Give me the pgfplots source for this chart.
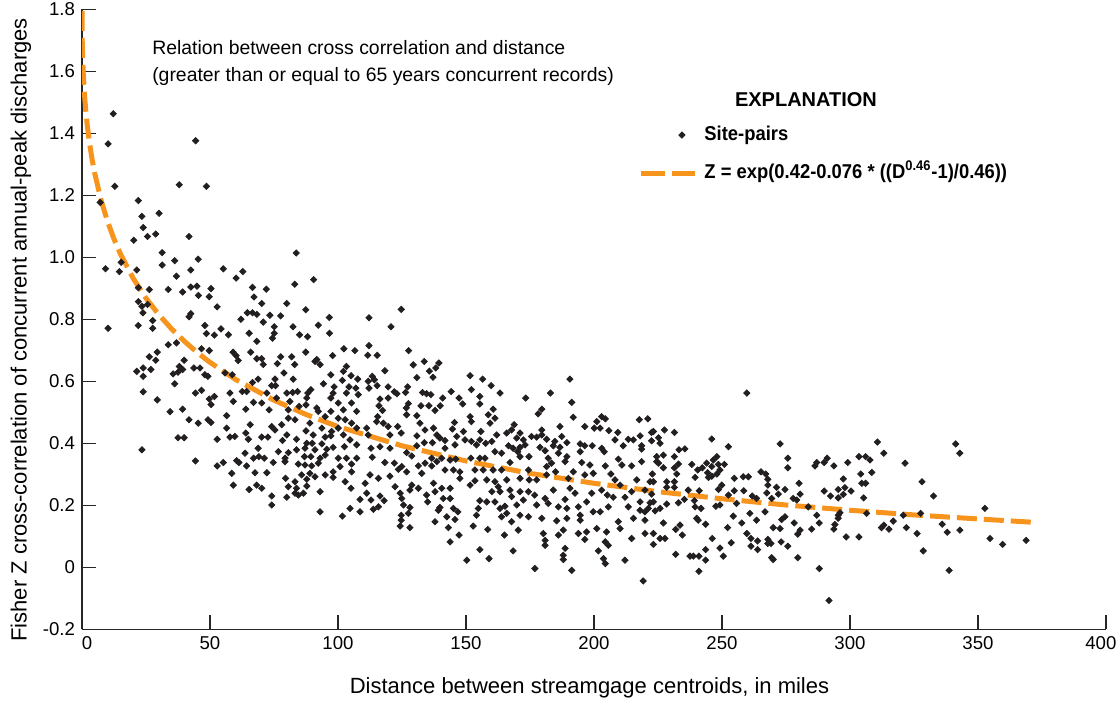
\documentclass[border=0pt]{standalone}
\usepackage{fontspec}
\setmainfont{Liberation Sans}
\newfontfamily\condfont{Liberation Sans}[FakeStretch=0.92]
\usepackage{pgfplots}
\pgfplotsset{compat=1.18}
\usetikzlibrary{calc}
\definecolor{usgsorange}{RGB}{247,148,29}
\definecolor{ptcol}{RGB}{35,31,32}

\pgfplotstableread{
x y
12.2 1.463
10.2 1.366
44.4 1.376
12.8 1.229
38.0 1.234
48.6 1.229
22.0 1.183
7.1 1.177
23.4 1.132
30.1 1.142
23.9 1.096
25.6 1.067
28.8 1.075
20.2 1.055
41.8 1.067
31.3 1.015
36.2 0.989
45.4 0.994
31.3 0.975
15.3 0.984
9.2 0.963
14.6 0.954
21.4 0.959
36.9 0.939
42.5 0.959
55.2 0.963
22.0 0.902
26.3 0.896
33.7 0.896
39.3 0.888
42.5 0.904
44.9 0.907
50.4 0.899
45.5 0.877
49.7 0.873
22.0 0.857
23.4 0.842
25.6 0.848
23.8 0.821
52.8 0.840
42.5 0.818
41.8 0.808
27.6 0.796
22.0 0.780
27.6 0.771
10.2 0.771
48.0 0.780
54.3 0.769
48.6 0.754
51.7 0.749
33.7 0.718
36.9 0.724
46.7 0.705
49.7 0.699
29.4 0.694
26.3 0.679
28.8 0.668
39.9 0.668
21.4 0.632
23.9 0.643
26.9 0.638
23.9 0.616
38.0 0.648
39.3 0.638
35.6 0.624
37.5 0.629
43.7 0.643
46.1 0.643
48.0 0.621
49.2 0.616
36.2 0.592
23.9 0.566
29.4 0.540
44.3 0.562
46.7 0.571
49.7 0.543
50.4 0.525
51.7 0.551
34.4 0.502
39.3 0.510
41.8 0.476
45.4 0.465
49.2 0.476
50.4 0.467
37.5 0.418
39.9 0.418
52.8 0.413
23.4 0.379
44.3 0.343
52.8 0.327
55.2 0.338
83.7 1.014
62.8 0.954
60.2 0.933
90.5 0.928
83.1 0.913
66.6 0.903
72.0 0.897
67.2 0.872
70.2 0.851
80.0 0.851
87.4 0.831
64.6 0.821
66.6 0.821
68.3 0.816
73.4 0.813
77.6 0.811
62.1 0.800
70.8 0.791
96.6 0.806
75.1 0.776
82.4 0.776
92.3 0.781
57.2 0.750
65.3 0.755
75.1 0.755
85.0 0.750
88.1 0.744
96.7 0.755
74.4 0.739
68.3 0.729
102.3 0.705
106.6 0.699
59.0 0.694
60.2 0.683
65.9 0.694
68.3 0.673
70.2 0.673
77.6 0.679
81.9 0.679
87.4 0.694
97.9 0.683
91.7 0.670
61.0 0.667
70.8 0.654
76.3 0.657
83.1 0.654
91.0 0.664
93.0 0.654
103.3 0.648
55.9 0.627
58.7 0.621
66.6 0.596
68.8 0.607
78.9 0.627
82.5 0.607
75.4 0.607
74.1 0.586
75.6 0.586
94.3 0.592
97.2 0.621
102.1 0.632
105.1 0.618
107.7 0.607
101.7 0.603
98.5 0.582
104.3 0.582
107.0 0.578
57.8 0.562
62.6 0.567
64.3 0.567
72.2 0.562
80.0 0.562
82.3 0.564
84.2 0.567
88.2 0.562
89.4 0.573
98.1 0.562
103.3 0.562
107.9 0.557
59.1 0.535
67.0 0.532
70.2 0.530
76.0 0.546
81.2 0.535
87.8 0.546
97.2 0.546
100.1 0.530
105.3 0.530
64.0 0.510
73.1 0.508
80.6 0.508
84.8 0.519
87.5 0.524
91.7 0.514
92.3 0.503
97.2 0.503
102.1 0.508
107.3 0.503
56.5 0.489
80.6 0.481
83.2 0.476
89.0 0.465
95.0 0.486
100.1 0.481
102.8 0.476
105.3 0.465
65.7 0.460
74.1 0.454
75.4 0.443
78.0 0.460
56.5 0.449
87.5 0.440
93.7 0.449
97.5 0.438
100.1 0.449
107.3 0.449
57.8 0.420
59.7 0.422
64.0 0.433
65.0 0.413
70.2 0.420
72.6 0.420
80.0 0.427
78.3 0.409
83.8 0.413
90.3 0.427
95.0 0.420
97.2 0.424
102.1 0.427
104.7 0.411
87.8 0.400
89.9 0.400
93.7 0.398
98.1 0.387
102.5 0.389
107.3 0.395
68.8 0.384
76.7 0.373
80.6 0.370
83.8 0.379
87.1 0.384
91.0 0.379
95.6 0.381
63.7 0.368
67.0 0.352
69.1 0.357
71.2 0.352
79.3 0.352
86.9 0.357
89.4 0.357
93.0 0.352
95.0 0.362
100.1 0.352
103.3 0.352
107.3 0.352
60.4 0.344
61.3 0.338
74.7 0.338
79.3 0.341
84.5 0.333
87.1 0.330
89.7 0.327
92.3 0.336
100.8 0.325
105.3 0.333
58.5 0.303
64.3 0.327
67.6 0.305
72.2 0.305
89.0 0.303
91.0 0.292
98.1 0.308
105.3 0.308
85.8 0.298
79.5 0.287
83.2 0.276
87.8 0.284
95.0 0.298
98.1 0.290
102.8 0.276
59.1 0.265
68.2 0.265
70.2 0.255
80.6 0.260
83.8 0.255
87.8 0.262
65.3 0.251
83.2 0.239
84.5 0.233
86.5 0.239
93.0 0.244
105.1 0.255
74.1 0.230
80.0 0.226
108.6 0.219
74.1 0.201
93.0 0.179
104.7 0.190
108.6 0.179
101.7 0.165
124.7 0.832
112.1 0.805
120.7 0.776
112.1 0.715
111.6 0.684
115.3 0.684
127.6 0.699
133.7 0.664
139.4 0.659
129.4 0.653
135.7 0.633
138.2 0.643
118.3 0.634
130.8 0.612
137.1 0.613
151.6 0.618
156.5 0.607
113.4 0.616
111.8 0.600
114.2 0.605
115.3 0.586
112.1 0.578
119.6 0.582
127.2 0.582
122.0 0.566
123.0 0.560
126.4 0.564
159.8 0.586
152.1 0.573
163.3 0.562
133.0 0.564
134.6 0.560
136.3 0.557
144.2 0.567
147.3 0.546
116.4 0.543
119.6 0.546
127.5 0.528
126.7 0.514
140.9 0.546
139.9 0.521
148.7 0.527
155.4 0.551
155.4 0.527
116.0 0.521
132.4 0.521
135.5 0.521
160.6 0.510
117.4 0.506
137.9 0.506
126.8 0.492
130.8 0.489
115.5 0.486
151.6 0.486
158.7 0.492
161.3 0.481
115.1 0.470
117.7 0.465
119.6 0.454
123.3 0.454
132.0 0.465
137.3 0.449
134.0 0.443
145.5 0.467
144.7 0.446
152.1 0.470
149.0 0.438
155.8 0.438
159.4 0.465
111.2 0.449
111.8 0.427
120.3 0.427
124.7 0.433
130.8 0.424
138.6 0.427
139.8 0.417
141.8 0.409
146.4 0.422
149.6 0.411
152.1 0.406
155.4 0.411
157.7 0.400
160.1 0.406
162.0 0.427
133.7 0.402
136.9 0.402
112.9 0.384
116.4 0.389
120.3 0.384
130.8 0.392
141.8 0.384
145.7 0.395
154.1 0.395
161.3 0.373
163.9 0.368
126.8 0.370
113.4 0.355
128.8 0.359
136.6 0.352
138.6 0.341
140.5 0.352
143.8 0.346
146.0 0.349
151.9 0.352
155.4 0.352
157.4 0.352
118.3 0.338
122.0 0.336
124.9 0.325
131.4 0.327
134.0 0.336
136.6 0.327
141.8 0.314
145.1 0.314
147.6 0.308
153.5 0.314
156.7 0.314
160.6 0.314
163.9 0.314
112.5 0.298
115.8 0.287
120.3 0.294
123.6 0.316
126.8 0.308
132.7 0.303
147.6 0.287
153.5 0.279
158.1 0.282
161.3 0.276
110.6 0.271
122.3 0.260
128.8 0.265
131.4 0.255
137.3 0.271
140.5 0.255
143.8 0.255
151.6 0.265
162.6 0.260
111.2 0.239
116.4 0.230
124.3 0.239
128.1 0.249
134.6 0.233
137.9 0.244
143.8 0.222
160.1 0.244
163.3 0.244
112.9 0.217
118.0 0.215
124.9 0.222
135.0 0.211
141.1 0.222
155.4 0.215
158.1 0.211
161.3 0.211
113.8 0.187
115.8 0.195
125.6 0.201
128.1 0.193
139.8 0.193
145.1 0.190
146.8 0.179
154.8 0.190
163.3 0.190
139.2 0.184
124.7 0.168
127.5 0.174
142.5 0.163
145.7 0.154
154.1 0.168
163.9 0.163
124.7 0.152
137.9 0.147
124.3 0.133
128.1 0.128
143.1 0.128
152.8 0.133
158.5 0.122
165.0 0.104
147.3 0.104
143.8 0.082
155.4 0.057
150.3 0.023
159.0 0.028
190.6 0.607
183.0 0.562
173.3 0.546
191.3 0.532
179.6 0.510
178.2 0.495
191.9 0.484
203.0 0.486
204.4 0.479
201.1 0.470
217.7 0.476
168.8 0.460
186.7 0.454
196.4 0.454
200.1 0.449
202.4 0.449
167.8 0.443
179.6 0.443
205.8 0.441
209.3 0.435
165.9 0.433
171.1 0.433
175.6 0.422
177.6 0.420
179.6 0.427
218.0 0.424
169.8 0.417
172.4 0.411
181.5 0.413
187.4 0.422
184.7 0.406
189.4 0.402
196.4 0.392
208.2 0.411
213.4 0.413
215.4 0.411
166.6 0.392
168.4 0.384
171.1 0.387
173.1 0.395
178.9 0.387
184.1 0.392
186.7 0.387
194.6 0.398
199.3 0.392
203.0 0.384
211.4 0.392
218.6 0.392
170.2 0.373
180.9 0.376
186.1 0.368
194.6 0.373
204.0 0.373
218.6 0.381
171.1 0.357
174.6 0.357
182.1 0.352
189.4 0.357
209.5 0.349
167.2 0.338
174.4 0.314
181.5 0.325
183.4 0.336
188.7 0.341
195.2 0.338
198.4 0.330
204.4 0.327
210.9 0.330
214.7 0.327
218.6 0.341
185.0 0.308
191.9 0.308
196.4 0.298
199.7 0.303
206.6 0.301
165.9 0.282
171.1 0.287
174.7 0.282
177.6 0.282
181.5 0.298
190.0 0.287
208.2 0.282
210.2 0.265
216.7 0.282
167.2 0.249
171.1 0.244
174.4 0.244
176.8 0.233
184.1 0.249
190.6 0.255
192.6 0.239
199.1 0.239
203.0 0.249
205.2 0.233
214.7 0.244
167.8 0.228
172.4 0.217
180.9 0.222
188.7 0.219
197.1 0.211
207.5 0.226
212.1 0.226
218.0 0.211
165.2 0.197
169.8 0.201
177.6 0.201
182.1 0.206
186.1 0.195
189.4 0.190
193.9 0.195
199.7 0.179
202.4 0.179
205.6 0.195
213.4 0.195
218.0 0.184
165.9 0.174
171.1 0.168
174.4 0.163
179.6 0.158
185.4 0.150
189.4 0.158
194.6 0.168
194.6 0.152
209.5 0.147
215.4 0.158
167.8 0.147
170.4 0.120
180.2 0.109
186.1 0.104
188.0 0.120
193.9 0.109
197.1 0.114
201.1 0.125
204.9 0.114
210.2 0.125
214.7 0.093
180.9 0.087
180.9 0.071
196.4 0.090
204.4 0.082
205.6 0.071
168.4 0.053
188.7 0.061
201.7 0.053
188.0 0.039
203.7 0.028
188.0 0.025
212.1 0.023
204.4 0.012
176.9 -0.004
191.3 -0.010
219.2 -0.044
259.7 0.562
221.0 0.479
222.5 0.435
223.2 0.438
227.5 0.443
231.4 0.435
225.2 0.418
222.5 0.408
225.8 0.400
246.0 0.414
252.5 0.389
272.7 0.398
233.2 0.379
235.5 0.382
224.5 0.357
227.1 0.362
231.4 0.357
275.7 0.352
224.5 0.341
225.2 0.336
233.0 0.333
238.2 0.332
244.0 0.336
246.6 0.346
248.0 0.357
227.1 0.321
231.4 0.321
242.3 0.321
246.0 0.325
248.6 0.332
250.9 0.332
275.7 0.321
240.5 0.314
249.2 0.314
244.4 0.305
248.0 0.301
265.2 0.308
267.1 0.301
222.8 0.301
232.3 0.301
239.5 0.290
244.7 0.290
246.0 0.294
254.8 0.287
258.3 0.292
260.3 0.292
267.9 0.284
221.9 0.276
223.2 0.276
228.4 0.276
231.4 0.276
267.9 0.265
280.1 0.271
228.4 0.258
231.4 0.258
236.8 0.249
241.1 0.247
249.9 0.265
248.6 0.251
252.5 0.233
254.8 0.247
258.5 0.247
261.8 0.230
263.5 0.222
267.5 0.240
271.3 0.258
272.0 0.236
274.6 0.251
280.5 0.236
277.8 0.222
279.2 0.217
269.4 0.222
219.9 0.249
222.5 0.236
221.9 0.208
223.2 0.211
225.8 0.190
221.2 0.190
219.9 0.179
223.9 0.182
228.4 0.204
233.0 0.208
235.3 0.219
239.2 0.215
239.5 0.195
241.8 0.190
247.6 0.197
249.2 0.201
255.7 0.206
260.9 0.174
263.5 0.152
266.8 0.179
273.3 0.154
274.6 0.163
278.2 0.143
280.5 0.120
279.6 0.107
219.9 0.152
227.1 0.143
231.9 0.122
233.6 0.136
234.5 0.104
240.1 0.158
240.7 0.152
243.6 0.139
252.2 0.128
254.4 0.165
257.7 0.143
259.7 0.109
270.0 0.128
272.7 0.125
219.9 0.109
223.2 0.109
225.8 0.093
227.7 0.093
223.2 0.074
246.2 0.093
253.6 0.079
261.3 0.093
263.9 0.085
267.9 0.090
269.1 0.077
273.1 0.082
275.7 0.068
261.3 0.068
263.9 0.057
267.9 0.077
243.6 0.057
249.2 0.062
231.9 0.042
237.5 0.036
238.8 0.036
241.0 0.036
243.6 0.023
250.5 0.036
269.4 0.031
270.0 0.025
279.6 0.031
241.0 -0.013
310.7 0.404
341.3 0.398
313.2 0.368
342.9 0.368
291.1 0.352
303.5 0.357
306.1 0.357
307.8 0.346
286.3 0.327
287.0 0.338
289.9 0.338
293.7 0.327
299.1 0.338
321.5 0.336
304.2 0.301
308.5 0.306
297.4 0.285
304.6 0.271
306.1 0.271
328.1 0.276
289.9 0.246
295.4 0.251
298.0 0.257
300.4 0.246
292.4 0.230
295.4 0.224
297.4 0.235
305.3 0.224
332.6 0.230
283.7 0.195
352.7 0.190
287.0 0.168
295.4 0.168
296.1 0.176
306.5 0.174
320.8 0.168
327.6 0.174
295.4 0.158
288.0 0.143
294.1 0.138
293.7 0.123
285.0 0.123
312.3 0.128
313.2 0.136
315.2 0.123
316.9 0.149
322.0 0.128
336.0 0.139
342.9 0.120
338.0 0.113
298.5 0.098
303.5 0.098
326.2 0.109
354.7 0.093
359.6 0.074
368.8 0.087
328.6 0.053
288.0 -0.004
338.7 -0.010
291.8 -0.107
}\sitepairs

\pgfplotstableread{
x y
0 1.795
0.1 1.695
0.25 1.645
0.5 1.592
1 1.522
1.5 1.471
2 1.430
3 1.365
4 1.313
5 1.270
7.5 1.183
10 1.115
12.5 1.059
15 1.011
20 0.932
25 0.868
30 0.815
35 0.769
40 0.729
45 0.693
50 0.661
60 0.606
75 0.539
87.5 0.493
100 0.454
125 0.392
150 0.343
175 0.303
200 0.271
225 0.244
250 0.221
275 0.201
300 0.184
325 0.169
350 0.156
372 0.145
}\fitcurve

\begin{document}
\begin{tikzpicture}
\begin{axis}[
  name=ax,
  scale only axis,
  width=512pt, height=310pt,
  xmin=0, xmax=400, ymin=-0.2, ymax=1.8,
  axis x line=bottom, axis y line=left,
  axis line style={-, line width=0.6pt, black!85},
  xtick={0,50,100,150,200,250,300,350,400},
  xticklabels={\hphantom{0}0,50,100,150,200,250,300,350,400\hphantom{0}},
  ytick={-0.2,0,0.2,0.4,0.6,0.8,1.0,1.2,1.4,1.6,1.8},
  yticklabels={-0.2,0,0.2,0.4,0.6,0.8,1.0,1.2,1.4,1.6,1.8},
  tick align=inside,
  major tick length=7pt,
  tick style={black!85, line width=0.6pt},
  ticklabel style={font=\fontsize{9.3}{11}\selectfont},
  xlabel={Distance between streamgage centroids, in miles},
  ylabel={Fisher Z cross-correlation of concurrent annual-peak discharges},
  label style={font=\fontsize{11}{13}\selectfont},
  xlabel style={at={(axis description cs:0.4956,-0.0947)}, anchor=center},
  ylabel style={at={(axis description cs:-0.0596,0.483)}, anchor=center},
  legend style={draw=none, fill=none, at={(axis cs:217.2,1.333)}, anchor=west,
    inner sep=0pt, font=\condfont\bfseries\fontsize{10}{12}\selectfont, row sep=10pt,
    nodes={inner xsep=0pt, inner ysep=0pt, text height=7pt, text depth=2pt},
    /tikz/every odd column/.append style={column sep=3.5pt}},
  legend cell align=left,
]
\addplot[only marks, mark=square*, mark size=1.1pt,
  mark options={rotate=45, fill=ptcol, draw=ptcol},
  legend image code/.code={\draw[only marks, mark=square*, mark size=1.1pt, mark options={rotate=45, fill=ptcol, draw=ptcol}] plot coordinates {(20.5pt,0pt)};}]
  table[x=x, y=y] {\sitepairs};
\addlegendentry{Site-pairs}
\addplot[usgsorange, line width=2.5pt, dash pattern=on 10pt off 3.5pt, no marks,
  legend image code/.code={\draw[usgsorange, line width=2.5pt, dash pattern=on 12pt off 3.5pt] (0pt,0pt) -- (27pt,0pt);}]
  table[x=x, y=y] {\fitcurve};
\addlegendentry{Z = exp(0.42-0.076 * ((D\textsuperscript{0.46}-1)/0.46))}
\node[font=\bfseries\fontsize{10}{12}\selectfont, anchor=center] at (axis cs:282.8,1.508) {EXPLANATION};
\node[font=\fontsize{9.7}{11}\selectfont, anchor=west, inner sep=0pt] at (axis cs:27.3,1.677) {Relation between cross correlation and distance};
\node[font=\fontsize{9.7}{11}\selectfont, anchor=west, inner sep=0pt] at (axis cs:27.3,1.583) {(greater than or equal to 65 years concurrent records)};
\end{axis}
\pgfresetboundingbox
\path ($(ax.south west)+(-41pt,-36.35pt)$) rectangle ($(ax.north east)+(6.5pt,4.65pt)$);
\end{tikzpicture}
\end{document}
